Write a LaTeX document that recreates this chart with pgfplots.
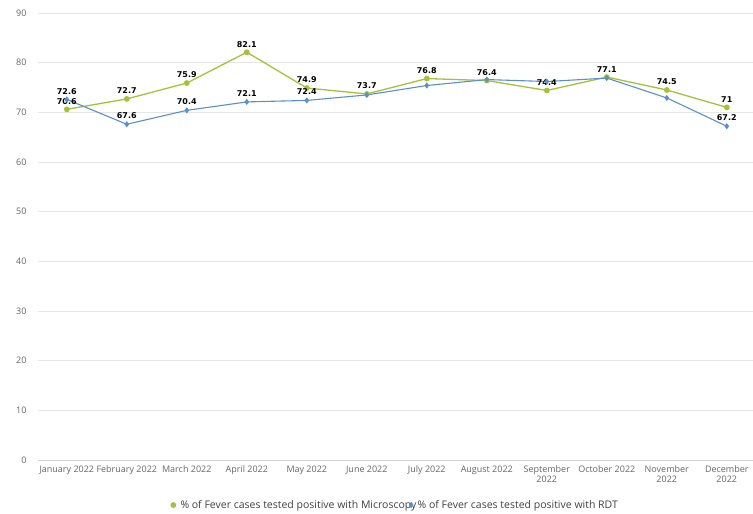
\documentclass[border=0pt]{standalone}
\usepackage{pgfplots}
\pgfplotsset{compat=1.18}
\usepackage{fontspec}
\setmainfont{DejaVu Sans}
\newfontfamily\opensans{Open Sans}
\definecolor{micgreen}{HTML}{A3C23A}
\definecolor{rdtblue}{HTML}{5B8FCC}
\definecolor{gridgray}{HTML}{E6E6E6}
\definecolor{ticktext}{HTML}{666666}
\begin{document}
\begin{tikzpicture}
\useasboundingbox (-38pt,-54pt) rectangle (715pt,460pt);
\begin{axis}[
  at={(0,0)}, anchor=south west,
  scale only axis, width=715pt, height=447pt,
  xmin=-0.48, xmax=11.437, ymin=0, ymax=90,
  ytick={0,10,...,90},
  xtick={0,...,11},
  xticklabels={January 2022,February 2022,March 2022,April 2022,May 2022,June 2022,July 2022,August 2022,September\\2022,October 2022,November\\2022,December\\2022},
  xticklabel style={font=\opensans\fontsize{9}{10.5}\selectfont, text=ticktext, align=center, anchor=north, yshift=-2pt},
  yticklabel style={font=\opensans\fontsize{9}{10}\selectfont, text=ticktext, xshift=-8pt},
  /pgf/number format/assume math mode=true,
  axis line style={draw=none},
  major tick length=0pt,
  ymajorgrids, grid style={gridgray, line width=0.7pt},
  clip=false,
  legend style={draw=none, fill=none, at={(0.5,-52pt)}, anchor=south, font=\opensans\fontsize{10.5}{12}\selectfont, text=black!75, legend columns=2, /tikz/every odd column/.append style={column sep=3pt}, /tikz/every even column/.append style={column sep=-9pt}, inner sep=0pt},
  legend cell align=left,
  legend image code/.code={\draw[#1] plot[only marks] coordinates {(0.1cm,0cm)};},
  nodes near coords,
  point meta=explicit symbolic,
  every node near coord/.append style={font=\bfseries\fontsize{8}{9}\selectfont, text=black, anchor=south, yshift=1pt},
]
\draw[gridgray!80!gray, line width=0.8pt] (axis cs:-0.48,0) -- (axis cs:11.437,0);
\addplot[micgreen, line width=1.3pt, mark=*, mark size=2.2pt, mark options={fill=micgreen}] coordinates {
 (0,70.6)[70.6] (1,72.7)[72.7] (2,75.9)[75.9] (3,82.1)[82.1] (4,74.9)[74.9] (5,73.7)[73.7]
 (6,76.8)[76.8] (7,76.4)[76.4] (8,74.4)[74.4] (9,77.1)[77.1] (10,74.5)[74.5] (11,71)[71]};
\addlegendentry{\% of Fever cases tested positive with Microscopy}
\addplot[rdtblue, line width=1.1pt, mark=diamond*, mark size=2.2pt, mark options={fill=rdtblue}] coordinates {
 (0,72.6)[] (1,67.6)[] (2,70.4)[] (3,72.1)[] (4,72.4)[] (5,73.5)[]
 (6,75.4)[] (7,76.6)[] (8,76.2)[] (9,76.9)[] (10,72.9)[] (11,67.2)[]};
\addlegendentry{\% of Fever cases tested positive with RDT}
\addplot[draw=none, forget plot, every node near coord/.append style={anchor=south, yshift=1pt}] coordinates {
 (1,67.6)[67.6] (11,67.2)[67.2] (2,70.4)[70.4] (3,72.1)[72.1] (4,72.4)[72.4]};
\addplot[draw=none, forget plot, every node near coord/.append style={anchor=south, yshift=10pt}] coordinates {
 (0,70.6)[72.6]};
\end{axis}
\end{tikzpicture}
\end{document}
